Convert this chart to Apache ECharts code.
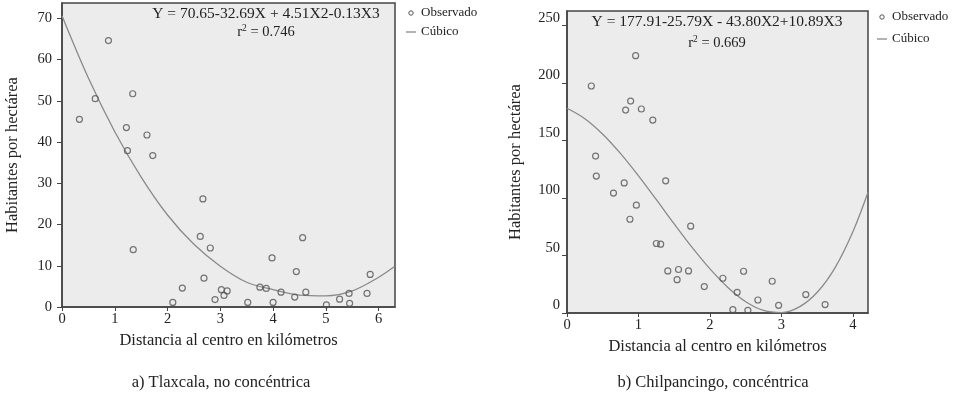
<!DOCTYPE html>
<html>
<head>
<meta charset="utf-8">
<script src="https://cdn.jsdelivr.net/npm/echarts@6/dist/echarts.min.js"></script>
<style>
html,body{margin:0;padding:0;background:#fff;}
#c{width:962px;height:393px;}
</style>
</head>
<body>
<div id="c"></div>
<script>
// ---- Data: a) Tlaxcala ----
const tlaxX = [0.33,0.63,0.88,1.22,1.24,1.34,1.61,1.72,1.35,2.67,2.62,2.81,2.69,2.28,2.10,2.90,3.02,3.07,3.13,3.52,3.75,3.87,3.98,4.00,4.15,4.41,4.44,4.56,4.62,5.01,5.26,5.44,5.45,5.78,5.84];
const tlaxY = [45.5,50.5,64.6,43.5,37.9,51.7,41.7,36.7,13.9,26.2,17.1,14.3,7.0,4.6,1.1,1.8,4.2,2.8,3.9,1.1,4.8,4.5,11.9,1.1,3.6,2.4,8.6,16.8,3.6,0.5,1.9,3.3,0.9,3.3,7.9];
const tlaxFitX = [0,0.5,1,1.5,2,2.5,3,3.5,4,4.5,5,5.5,6,6.3];
const tlaxFitY = [70.6,55.5,42.5,31.5,22.3,15.2,9.9,6.0,4.2,2.9,2.7,3.9,7.2,9.8];
// ---- Data: b) Chilpancingo ----
const chilX = [0.96,0.34,0.89,0.82,1.04,1.20,0.40,0.41,1.38,0.80,0.65,0.97,0.88,1.73,1.25,1.31,1.41,1.56,1.54,1.70,1.92,2.18,2.47,2.38,2.32,2.53,2.67,2.87,2.96,3.34,3.61];
const chilY = [223.7,197.3,184.2,176.4,177.3,167.7,136.4,119.0,114.9,113.1,104.2,93.7,81.5,75.5,60.4,59.8,36.6,37.8,29.0,36.6,23.0,30.2,36.3,18.0,2.9,2.3,11.3,27.6,6.7,16.0,7.3];
const chilFitX = [0,0.25,0.5,0.75,1,1.25,1.5,1.75,2,2.25,2.5,2.75,3,3.25,3.5,3.75,4,4.21];
const chilFitY = [178,168.9,155.4,138.5,119.2,98.5,77.4,57.0,38.3,22.2,9.8,2.2,0.4,5.3,18.0,39.5,70.9,105];
// ---- Texts ----
const xTitle = 'Distancia al centro en kilómetros';
const yTitle = 'Habitantes por hectárea';
const capA = 'a) Tlaxcala, no concéntrica';
const capB = 'b) Chilpancingo, concéntrica';
const eqA = 'Y = 70.65-32.69X + 4.51X2-0.13X3';
const r2A = '0.746';
const eqB = 'Y = 177.91-25.79X - 43.80X2+10.89X3';
const r2B = '0.669';
const legObs = 'Observado';
const legCub = 'Cúbico';

const FONT = '"Liberation Serif", "DejaVu Serif", serif';
const TXT = '#222';
const zip = (a,b) => a.map((v,i)=>[v,b[i]]);

function xAx(grid, max, gap){
  return {type:'value', gridIndex:grid, min:0, max:max, interval:1,
    name:xTitle, nameLocation:'middle', nameGap:gap,
    nameTextStyle:{fontFamily:FONT, fontSize:16.5, color:TXT},
    axisLine:{show:true, onZero:false, lineStyle:{color:'#444', width:1.5}},
    axisTick:{show:true, inside:false, length:4, lineStyle:{color:'#444'}},
    axisLabel:{fontFamily:FONT, fontSize:14.5, color:TXT, margin:5, showMaxLabel:false},
    splitLine:{show:false}};
}
function yAx(grid, max, interval, gap, vAlign, margin){
  return {type:'value', gridIndex:grid, min:0, max:max, interval:interval,
    name:yTitle, nameLocation:'middle', nameGap:gap,
    nameTextStyle:{fontFamily:FONT, fontSize:16.5, color:TXT},
    axisLine:{show:true, onZero:false, lineStyle:{color:'#444', width:1.5}},
    axisTick:{show:true, inside:false, length:5, lineStyle:{color:'#444'}},
    axisLabel:{fontFamily:FONT, fontSize:14.5, color:TXT, margin:margin, showMaxLabel:false, verticalAlign:vAlign},
    splitLine:{show:false}};
}
const scatterStyle = {color:'transparent', borderColor:'#555', borderWidth:1.2};
const lineStyle = {color:'#8a8a8a', width:1.3};

function legend(x, y1, y2){
  return [
    {type:'circle', shape:{cx:x+5, cy:y1, r:2.2}, style:{fill:'none', stroke:'#555', lineWidth:1}},
    {type:'text', x:x+15, y:y1, style:{text:legObs, font:'13px '+FONT, fill:TXT, verticalAlign:'middle'}},
    {type:'line', shape:{x1:x, y1:y2, x2:x+10, y2:y2}, style:{stroke:'#8a8a8a', lineWidth:1.3}},
    {type:'text', x:x+15, y:y2, style:{text:legCub, font:'13px '+FONT, fill:TXT, verticalAlign:'middle'}}
  ];
}
function eqText(cx, y1, y2, eq, r2){
  return [
    {type:'text', x:cx, y:y1, style:{text:eq, font:'15.5px '+FONT, fill:TXT, align:'center', verticalAlign:'middle'}},
    {type:'text', x:cx, y:y2, style:{text:'r{s|2} = '+r2, align:'center', verticalAlign:'middle',
      font:'14.5px '+FONT, fill:TXT, rich:{s:{fontSize:9.5, fontFamily:FONT, verticalAlign:'top', padding:[0,0,8,0], fill:TXT}}}}
  ];
}

const chart = echarts.init(document.getElementById('c'), null, {renderer:'canvas'});
chart.setOption({
  animation:false,
  backgroundColor:'#fff',
  grid:[
    {left:62, right:567, top:3, bottom:86, show:true, backgroundColor:'#ececec', borderColor:'#444', borderWidth:1.5, containLabel:false},
    {left:567, right:94, top:11, bottom:80, show:true, backgroundColor:'#ececec', borderColor:'#444', borderWidth:1.5, containLabel:false}
  ],
  xAxis:[xAx(0, 6.31, 23), xAx(1, 4.21, 25)],
  yAxis:[yAx(0, 73.7, 10, 41, 'middle', 10), yAx(1, 262.5, 50, 43, 'bottom', 7)],
  series:[
    {type:'line', xAxisIndex:0, yAxisIndex:0, data:zip(tlaxFitX, tlaxFitY), smooth:0.35, showSymbol:false, lineStyle:lineStyle, clip:true, z:2},
    {type:'scatter', xAxisIndex:0, yAxisIndex:0, data:zip(tlaxX, tlaxY), symbol:'circle', symbolSize:6, itemStyle:scatterStyle, z:3},
    {type:'line', xAxisIndex:1, yAxisIndex:1, data:zip(chilFitX, chilFitY), smooth:0.35, showSymbol:false, lineStyle:lineStyle, clip:true, z:2},
    {type:'scatter', xAxisIndex:1, yAxisIndex:1, data:zip(chilX, chilY), symbol:'circle', symbolSize:6, itemStyle:scatterStyle, z:3}
  ],
  graphic:[].concat(
    eqText(266, 14, 32, eqA, r2A),
    eqText(717, 22, 43, eqB, r2B),
    legend(406, 13, 32),
    legend(877, 17, 39),
    [
      {type:'text', x:221, y:383, style:{text:capA, font:'16.5px '+FONT, fill:TXT, align:'center', verticalAlign:'middle'}},
      {type:'text', x:713, y:383, style:{text:capB, font:'16.5px '+FONT, fill:TXT, align:'center', verticalAlign:'middle'}}
    ]
  )
});
</script>
</body>
</html>
